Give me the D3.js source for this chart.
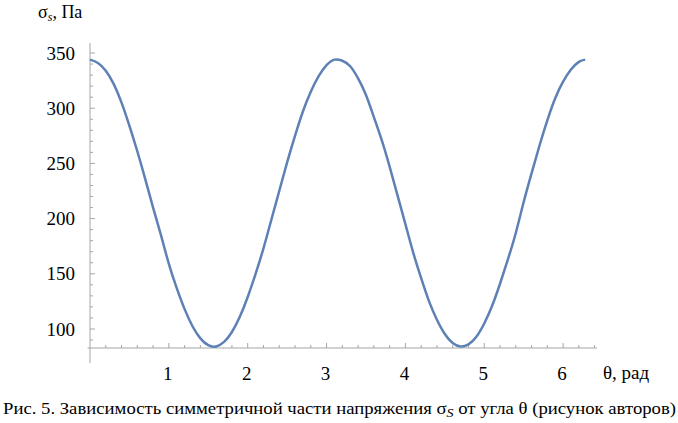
<!DOCTYPE html>
<html>
<head>
<meta charset="utf-8">
<script src="https://cdn.jsdelivr.net/npm/d3@7"></script>
<style>
  body { margin: 0; background: #fff; }
</style>
</head>
<body>
<svg id="chart"></svg>
<script>
// angle θ, rad
const theta = [0, 0.1, 0.2, 0.3, 0.4, 0.5, 0.6, 0.7, 0.8, 0.9, 1.0, 1.1, 1.2, 1.3, 1.4, 1.5, 1.6, 1.7, 1.8, 1.9,
  2.0, 2.1, 2.2, 2.3, 2.4, 2.5, 2.6, 2.7, 2.8, 2.9, 3.0, 3.1, 3.2, 3.3, 3.4, 3.5, 3.6, 3.7, 3.8, 3.9,
  4.0, 4.1, 4.2, 4.3, 4.4, 4.5, 4.6, 4.7, 4.8, 4.9, 5.0, 5.1, 5.2, 5.3, 5.4, 5.5, 5.6, 5.7, 5.8, 5.9,
  6.0, 6.1, 6.2, 6.28];
// σs, Pa
const sigma = [344, 341, 334, 322, 305, 284, 261, 236, 210, 185, 159, 137, 118, 102.5, 91.5, 85.3, 84.2, 88.3, 97.3, 111,
  129, 150, 173, 199, 225, 251, 275, 297, 315, 329, 339, 344, 343, 338, 327, 312, 292, 271, 247, 221,
  195, 169, 146, 125, 108.4, 95.5, 87.3, 84.1, 86.1, 93, 105, 121, 141, 163, 187, 215, 241, 266, 289, 309,
  324, 335, 342, 344];
const xTicks = [1, 2, 3, 4, 5, 6];
const yTicks = [100, 150, 200, 250, 300, 350];

const W = 678, H = 423;
const svg = d3.select("#chart").attr("width", W).attr("height", H);

const x = d3.scaleLinear().domain([0, 6.43]).range([90, 597]);
const y = d3.scaleLinear().domain([100, 350]).range([329, 53]);
const axisColor = "#a6a6a6";
const yCross = 82.8;

// y axis
const gy = svg.append("g");
gy.append("line").attr("x1", x(0)).attr("x2", x(0))
  .attr("y1", y(359)).attr("y2", y(69)).attr("stroke", axisColor);
gy.selectAll("line.minor").data(d3.range(90, 351, 10)).enter().append("line")
  .attr("class", "minor")
  .attr("x1", x(0)).attr("x2", d => x(0) + (d % 50 === 0 ? 5 : 3))
  .attr("y1", d => y(d)).attr("y2", d => y(d)).attr("stroke", axisColor);
gy.selectAll("text").data(yTicks).enter().append("text")
  .attr("x", 75).attr("y", d => y(d) + 6.5)
  .attr("text-anchor", "end").attr("font-size", 19).text(d => d);

// x axis
const gx = svg.append("g");
gx.append("line").attr("x1", x(-0.03)).attr("x2", x(6.43))
  .attr("y1", y(yCross)).attr("y2", y(yCross)).attr("stroke", axisColor);
gx.selectAll("line.minor").data(d3.range(1, 33).map(i => i * 0.2)).enter().append("line")
  .attr("class", "minor")
  .attr("x1", d => x(d)).attr("x2", d => x(d))
  .attr("y1", y(yCross)).attr("y2", d => y(yCross) - (Math.abs(d - Math.round(d)) < 1e-6 ? 5 : 3))
  .attr("stroke", axisColor);
gx.selectAll("text").data(xTicks).enter().append("text")
  .attr("x", d => x(d) - 1).attr("y", 380)
  .attr("text-anchor", "middle").attr("font-size", 19).text(d => d);

// curve
const line = d3.line().x(d => x(d[0])).y(d => y(d[1])).curve(d3.curveNatural);
svg.append("path").datum(theta.map((t, i) => [t, sigma[i]]))
  .attr("d", line).attr("fill", "none")
  .attr("stroke", "#5e81b5").attr("stroke-width", 2.5);

// axis labels
const yl = svg.append("text").attr("x", 38).attr("y", 18).attr("font-size", 18);
yl.append("tspan").text("σ");
yl.append("tspan").attr("font-style", "italic").attr("font-size", 12).attr("dy", 3).text("s");
yl.append("tspan").attr("dy", -3).text(", Па");

svg.append("text").attr("x", 603).attr("y", 379).attr("font-size", 19).text("θ, рад");

// caption
const cap = svg.append("text").attr("x", 3).attr("y", 414).attr("font-size", 16)
  .attr("textLength", 673).attr("lengthAdjust", "spacingAndGlyphs");
cap.append("tspan").text("Рис. 5. Зависимость симметричной части напряжения σ");
cap.append("tspan").attr("font-style", "italic").attr("font-size", 12).attr("dy", 3).text("S");
cap.append("tspan").attr("dy", -3).text(" от угла θ (рисунок авторов)");

svg.selectAll("text").attr("font-family", "Liberation Serif");
</script>
</body>
</html>
